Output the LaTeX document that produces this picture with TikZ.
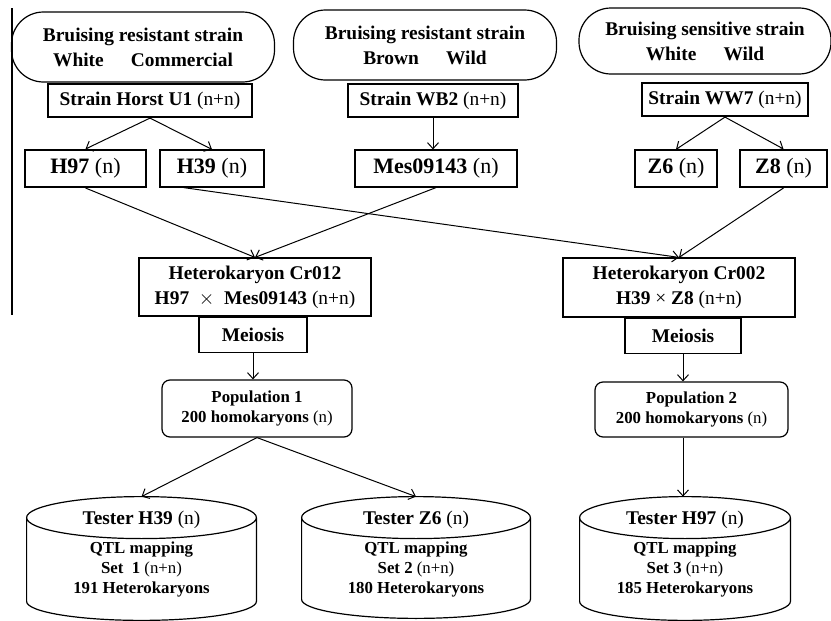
\documentclass[tikz,border=0pt]{standalone}
\usepackage{fontspec}
\setmainfont{Liberation Serif}
\usetikzlibrary{shapes,arrows}
\usetikzlibrary{calc}
\usetikzlibrary{shapes.geometric,arrows.meta,positioning}

\newcommand{\ploidy}[1]{\textmd{(#1)}}

\begin{document}
\begin{tikzpicture}[x=0.5pt,y=-0.5pt]
		\tikzstyle{origin} = [draw,line width=0.6pt,align=center,rounded corners=16pt,minimum width=131.5pt,minimum height=35pt,inner sep=0pt,font=\fontsize{9.7}{12.5}\selectfont\bfseries]
		\tikzstyle{parent} = [draw,line width=1.1pt,minimum height=16.5pt,inner sep=0pt,font=\fontsize{9.7}{12}\selectfont\bfseries]
		\tikzstyle{mono} = [draw,line width=0.6pt,minimum height=18.5pt,inner sep=0pt,font=\fontsize{11}{13}\selectfont\bfseries]
		\tikzstyle{monothick} = [mono,line width=1pt]
		\tikzstyle{cross} = [draw,line width=0.6pt,align=center,inner sep=0pt,font=\fontsize{9.7}{12.5}\selectfont\bfseries]
		\tikzstyle{population} = [draw,line width=0.6pt,align=center,rounded corners=4pt,inner sep=0pt,font=\fontsize{8.4}{10.3}\selectfont\bfseries]
		\tikzstyle{tester} = [inner sep=0pt]
		\tikzstyle{testertitle} = [inner sep=0pt,font=\fontsize{9.7}{12}\selectfont\bfseries]
		\tikzstyle{testertext} = [inner sep=0pt,align=center,font=\fontsize{8.4}{10}\selectfont\bfseries]
		\tikzstyle{myarrow} = [-{Straight Barb[length=3pt,width=5.5pt]},line width=0.5pt]
		
		\useasboundingbox (0,0) rectangle (831,621);
		\draw [line width=0.6pt] (12,8) -- (12,315);
		
		% Source strains
		\node [origin] (resWhite) at (143,47) {Bruising resistant strain\\White\hspace{1.4em}Commercial};
		\node [origin] (resBrown) at (425,45) {Bruising resistant strain\\Brown\hspace{1.4em}Wild};
		\node [origin, minimum width=126pt, minimum height=33pt] (sensWhite) at (705,41) {Bruising sensitive strain\\White\hspace{1.4em}Wild};
		
		% Parent strains (n+n)
		\node [parent, minimum width=102pt] (horst) at (150,100.5) {Strain Horst U1 \ploidy{n+n}};
		\node [parent, minimum width=85pt] (wb2) at (433,100.5) {Strain WB2 \ploidy{n+n}};
		\node [parent, minimum width=83pt] (ww7) at (725,99.5) {Strain WW7 \ploidy{n+n}};
		
		% Homokaryons (n)
		\node [monothick, minimum width=60.5pt] (h97) at (85.5,168.5) {H97 \ploidy{n}};
		\node [mono, minimum width=52pt] (h39) at (212,168.5) {H39 \ploidy{n}};
		\node [mono, minimum width=81pt] (mes) at (436,168.5) {Mes09143 \ploidy{n}};
		\node [mono, minimum width=41pt] (z6) at (676,168.5) {Z6 \ploidy{n}};
		\node [monothick, minimum width=43.5pt] (z8) at (783.5,168.5) {Z8 \ploidy{n}};
		
		% Heterokaryons and meiosis
		\node [cross, minimum width=116pt, minimum height=29pt] (cr012) at (255,287) {Heterokaryon Cr012\\H97\enspace$\times$\enspace Mes09143 \ploidy{n+n}};
		\node [cross, below=0pt of cr012, xshift=-1pt, minimum width=54pt, minimum height=17.5pt] (meiosisA) {Meiosis};
		\node [cross, minimum width=116pt, minimum height=29.5pt] (cr002) at (679,287.5) {Heterokaryon Cr002\\H39 \textmd{×} Z8 \ploidy{n+n}};
		\node [cross, below=0pt of cr002, xshift=2pt, minimum width=58pt, minimum height=17.5pt] (meiosisB) {Meiosis};
		
		% Populations
		\node [population, minimum width=95pt, minimum height=28.5pt] (pop1) at (257,408.5) {Population 1\\200 homokaryons \ploidy{n}};
		\node [population, minimum width=96.5pt, minimum height=27.5pt] (pop2) at (691.5,409.5) {Population 2\\200 homokaryons \ploidy{n}};
		
		% Tester sets (drawn as cylinders round the nodes)
		\node [tester, minimum width=114.5pt, minimum height=61.5pt] (set1) at (141.5,558.5) {};
		\node [tester, minimum width=114pt, minimum height=60.5pt] (set2) at (416,557.5) {};
		\node [tester, minimum width=105pt, minimum height=61.5pt] (set3) at (685,558.5) {};
		\foreach \s in {set1,set2,set3} {
		  \draw [line width=0.6pt] let \p1=(\s.north west), \p2=(\s.north east), \n1={(\x2-\x1)/2} in
		    ($(\s.north)+(0,21)$) ellipse [x radius=\n1, y radius=10.5pt]
		    ($(\s.north west)+(0,21)$) -- ($(\s.south west)+(0,-19)$)
		    arc [start angle=180, end angle=360, x radius=\n1, y radius=9.5pt] -- ($(\s.north east)+(0,21)$);
		}
		
		\node [testertitle] (set1title) at ($(set1.north)+(0,23)$) {Tester H39 \ploidy{n}};
		\node [testertext] (set1text) at ($(set1.north)+(0,73)$) {QTL mapping\\Set\ \ 1 \ploidy{n+n}\\191 Heterokaryons};
		\node [testertitle] (set2title) at ($(set2.north)+(0,23)$) {Tester Z6 \ploidy{n}};
		\node [testertext] (set2text) at ($(set2.north)+(0,73)$) {QTL mapping\\Set 2 \ploidy{n+n}\\180 Heterokaryons};
		\node [testertitle] (set3title) at ($(set3.north)+(0,23)$) {Tester H97 \ploidy{n}};
		\node [testertext] (set3text) at ($(set3.north)+(0,73)$) {QTL mapping\\Set 3 \ploidy{n+n}\\185 Heterokaryons};
		
		% Arrows
		\draw [myarrow] (horst.south) -- (h97.north);
		\draw [myarrow] (horst.south) -- (h39.north);
		\draw [myarrow] (wb2.south) -- (wb2.south |- mes.north);
		\draw [myarrow] (ww7.south) -- (z6.north);
		\draw [myarrow] (ww7.south) -- (z8.north);
		\draw [myarrow] (h97.south) -- (cr012.north);
		\draw [myarrow] (mes.south) -- (cr012.north);
		\draw [myarrow] (h39.214) -- (cr002.north);
		\draw [myarrow] (z8.south) -- (cr002.north);
		\draw [myarrow] (meiosisA.south) -- (meiosisA.south |- pop1.north);
		\draw [myarrow] (meiosisB.south) -- (meiosisB.south |- pop2.north);
		\draw [myarrow] (pop1.south) -- (set1.north);
		\draw [myarrow] (pop1.south) -- (set2.north);
		\draw [myarrow] (meiosisB.south |- pop2.south) -- (meiosisB.south |- set3.north);
	\end{tikzpicture}
\end{document}
